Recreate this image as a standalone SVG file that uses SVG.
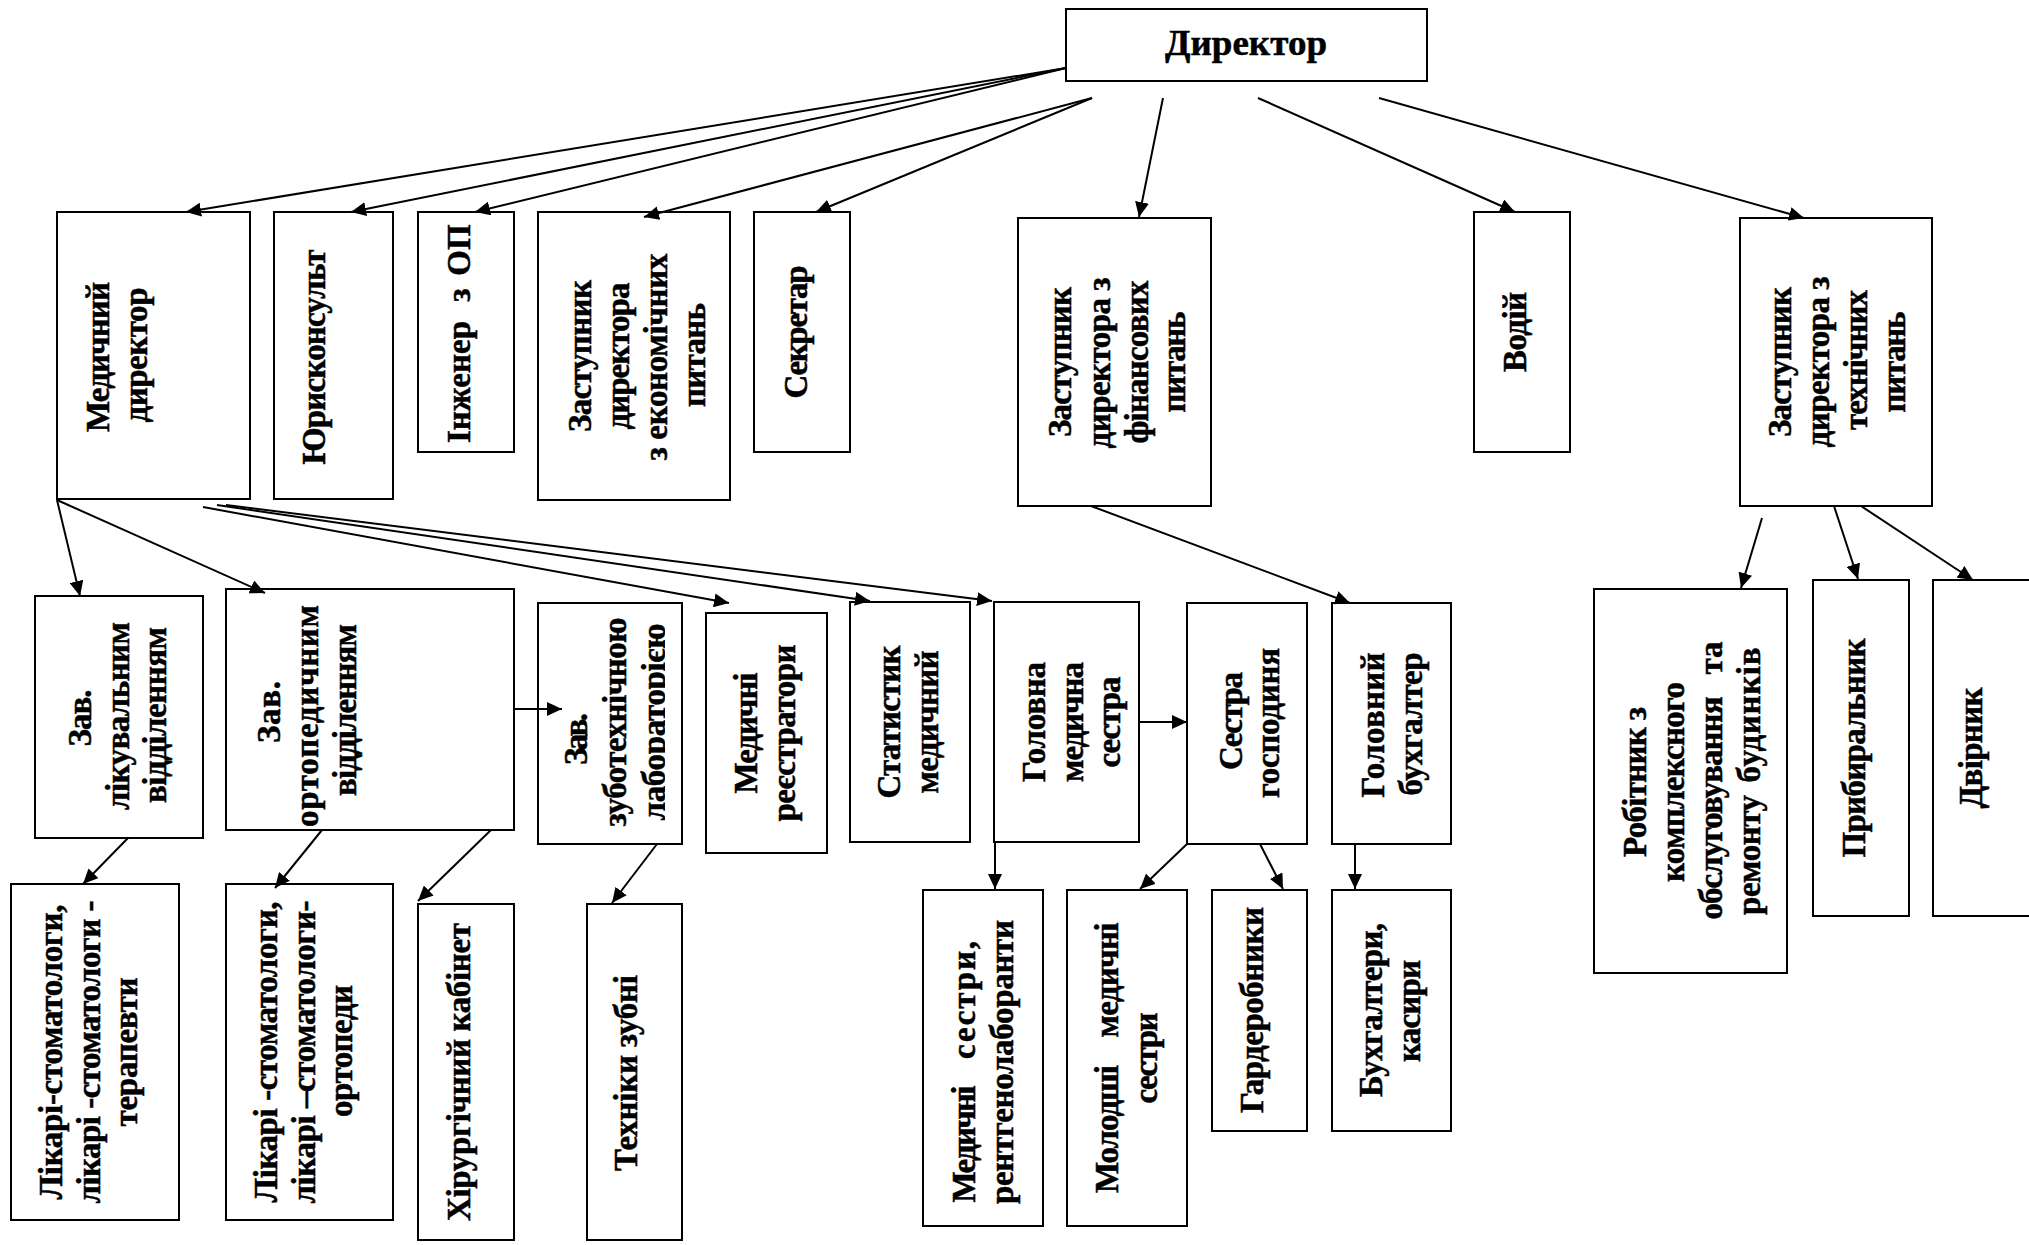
<svg xmlns="http://www.w3.org/2000/svg" width="2029" height="1245" viewBox="0 0 2029 1245">
<style>
.box{fill:#fff;stroke:#000;stroke-width:2}
.t{font-family:"Liberation Serif","Times New Roman",serif;font-weight:bold;font-size:33px;text-anchor:middle;fill:#000;stroke:#000;stroke-width:0.5}
.h{font-size:36px}
.c line{stroke:#000;stroke-width:2;marker-end:url(#ah)}
</style>
<defs>
<marker id="ah" markerUnits="userSpaceOnUse" markerWidth="16" markerHeight="14" refX="15" refY="7" orient="auto">
<path d="M0,0 L15,7 L0,14 z" fill="#000"/>
</marker>
<clipPath id="clipZub"><rect x="530" y="590" width="135" height="270"/></clipPath>
</defs>
<rect width="2029" height="1245" fill="#fff"/>

<g id="director"><rect class="box" x="1066" y="9" width="361" height="72"/>
<text class="t h" x="1246" y="55" textLength="162" lengthAdjust="spacingAndGlyphs">Директор</text></g>

<g id="med-dir"><rect class="box" x="57" y="212" width="193" height="287"/>
<text class="t" transform="translate(109,357) rotate(-90)" textLength="150" lengthAdjust="spacing">Медичний</text>
<text class="t" transform="translate(147,355) rotate(-90)" textLength="135" lengthAdjust="spacing">директор</text></g>

<g id="yuris"><rect class="box" x="274" y="212" width="119" height="287"/>
<text class="t" transform="translate(325,357) rotate(-90)" textLength="215" lengthAdjust="spacing">Юрисконсульт</text></g>

<g id="inzh"><rect class="box" x="418" y="212" width="96" height="240"/>
<text class="t" transform="translate(470,382) rotate(-90)">Інженер</text>
<text class="t" transform="translate(470,295) rotate(-90)">з</text>
<text class="t" transform="translate(470,250) rotate(-90)">ОП</text></g>

<g id="zast-econ"><rect class="box" x="538" y="212" width="192" height="288"/>
<text class="t" transform="translate(591,356) rotate(-90)" textLength="152" lengthAdjust="spacing">Заступник</text>
<text class="t" transform="translate(629,356) rotate(-90)" textLength="147" lengthAdjust="spacing">директора</text>
<text class="t" transform="translate(667,357) rotate(-90)" textLength="207" lengthAdjust="spacing">з економічних</text>
<text class="t" transform="translate(705,355) rotate(-90)" textLength="104" lengthAdjust="spacing">питань</text></g>

<g id="secr"><rect class="box" x="754" y="212" width="96" height="240"/>
<text class="t" transform="translate(807,332) rotate(-90)" textLength="133" lengthAdjust="spacing">Секретар</text></g>

<g id="zast-fin"><rect class="box" x="1018" y="218" width="193" height="288"/>
<text class="t" transform="translate(1071,362) rotate(-90)" textLength="150" lengthAdjust="spacing">Заступник</text>
<text class="t" transform="translate(1110,363) rotate(-90)" textLength="171" lengthAdjust="spacing">директора з</text>
<text class="t" transform="translate(1148,362) rotate(-90)" textLength="163" lengthAdjust="spacing">фінансових</text>
<text class="t" transform="translate(1185,362) rotate(-90)" textLength="101" lengthAdjust="spacing">питань</text></g>

<g id="vodiy"><rect class="box" x="1474" y="212" width="96" height="240"/>
<text class="t" transform="translate(1526,332) rotate(-90)" textLength="80" lengthAdjust="spacing">Водій</text></g>

<g id="zast-tech"><rect class="box" x="1740" y="218" width="192" height="288"/>
<text class="t" transform="translate(1791,362) rotate(-90)" textLength="150" lengthAdjust="spacing">Заступник</text>
<text class="t" transform="translate(1829,362) rotate(-90)" textLength="171" lengthAdjust="spacing">директора з</text>
<text class="t" transform="translate(1867,360) rotate(-90)" textLength="140" lengthAdjust="spacing">технічних</text>
<text class="t" transform="translate(1905,362) rotate(-90)" textLength="101" lengthAdjust="spacing">питань</text></g>

<g id="zav-likuv"><rect class="box" x="35" y="596" width="168" height="242"/>
<text class="t" transform="translate(91,718) rotate(-90)" textLength="57" lengthAdjust="spacing">Зав.</text>
<text class="t" transform="translate(129,716) rotate(-90)" textLength="188" lengthAdjust="spacing">лікувальним</text>
<text class="t" transform="translate(166,715) rotate(-90)" textLength="176" lengthAdjust="spacing">відділенням</text></g>

<g id="zav-orto"><rect class="box" x="226" y="589" width="288" height="241"/>
<text class="t" transform="translate(280,712) rotate(-90)" textLength="62" lengthAdjust="spacing">Зав.</text>
<text class="t" transform="translate(318,716) rotate(-90)" textLength="222" lengthAdjust="spacing">ортопедичним</text>
<text class="t" transform="translate(356,710) rotate(-90)" textLength="172" lengthAdjust="spacing">відділенням</text></g>

<g id="zav-zub"><rect class="box" x="538" y="603" width="144" height="241"/>
<g clip-path="url(#clipZub)">
<text class="t" transform="translate(587,739) rotate(-90)" textLength="52" lengthAdjust="spacing">Зав.</text>
<text class="t" transform="translate(626,722) rotate(-90)" textLength="209" lengthAdjust="spacing">зуботехнічною</text>
<text class="t" transform="translate(665,722) rotate(-90)" textLength="197" lengthAdjust="spacing">лабораторією</text></g></g>

<g id="med-reg"><rect class="box" x="706" y="613" width="121" height="240"/>
<text class="t" transform="translate(757,733) rotate(-90)" textLength="121" lengthAdjust="spacing">Медичні</text>
<text class="t" transform="translate(795,733) rotate(-90)" textLength="177" lengthAdjust="spacing">реєстратори</text></g>

<g id="stat"><rect class="box" x="850" y="602" width="120" height="240"/>
<text class="t" transform="translate(900,722) rotate(-90)" textLength="153" lengthAdjust="spacing">Статистик</text>
<text class="t" transform="translate(938,722) rotate(-90)" textLength="143" lengthAdjust="spacing">медичний</text></g>

<g id="golovna"><rect class="box" x="994" y="602" width="145" height="240"/>
<text class="t" transform="translate(1045,722) rotate(-90)" textLength="120" lengthAdjust="spacing">Головна</text>
<text class="t" transform="translate(1083,722) rotate(-90)" textLength="120" lengthAdjust="spacing">медична</text>
<text class="t" transform="translate(1120,722) rotate(-90)" textLength="91" lengthAdjust="spacing">сестра</text></g>

<g id="sestra-gosp"><rect class="box" x="1187" y="603" width="120" height="241"/>
<text class="t" transform="translate(1242,721) rotate(-90)" textLength="98" lengthAdjust="spacing">Сестра</text>
<text class="t" transform="translate(1279,723) rotate(-90)" textLength="150" lengthAdjust="spacing">господиня</text></g>

<g id="gol-buh"><rect class="box" x="1332" y="603" width="119" height="241"/>
<text class="t" transform="translate(1384,725) rotate(-90)" textLength="145" lengthAdjust="spacing">Головний</text>
<text class="t" transform="translate(1422,724) rotate(-90)" textLength="143" lengthAdjust="spacing">бухгалтер</text></g>

<g id="robitnyk"><rect class="box" x="1594" y="589" width="193" height="384"/>
<text class="t" transform="translate(1646,782) rotate(-90)" textLength="150" lengthAdjust="spacing">Робітник з</text>
<text class="t" transform="translate(1684,782) rotate(-90)" textLength="200" lengthAdjust="spacing">комплексного</text>
<text class="t" transform="translate(1722,808) rotate(-90)" textLength="223" lengthAdjust="spacing">обслуговування</text>
<text class="t" transform="translate(1722,658) rotate(-90)">та</text>
<text class="t" transform="translate(1760,855) rotate(-90)" textLength="120" lengthAdjust="spacing">ремонту</text>
<text class="t" transform="translate(1760,715) rotate(-90)" textLength="135" lengthAdjust="spacing">будинків</text></g>

<g id="prybyr"><rect class="box" x="1813" y="580" width="96" height="336"/>
<text class="t" transform="translate(1865,748) rotate(-90)" textLength="219" lengthAdjust="spacing">Прибиральник</text></g>

<g id="dvirnyk"><rect class="box" x="1933" y="580" width="110" height="336"/>
<text class="t" transform="translate(1982,748) rotate(-90)" textLength="121" lengthAdjust="spacing">Двірник</text></g>

<g id="likari-ter"><rect class="box" x="11" y="884" width="168" height="336"/>
<text class="t" transform="translate(62,1052) rotate(-90)" textLength="295" lengthAdjust="spacing">Лікарі-стоматологи,</text>
<text class="t" transform="translate(100,1052) rotate(-90)" textLength="303" lengthAdjust="spacing">лікарі -стоматологи -</text>
<text class="t" transform="translate(137,1052) rotate(-90)" textLength="149" lengthAdjust="spacing">терапевти</text></g>

<g id="likari-orto"><rect class="box" x="226" y="884" width="167" height="336"/>
<text class="t" transform="translate(277,1052) rotate(-90)" textLength="301" lengthAdjust="spacing">Лікарі -стоматологи,</text>
<text class="t" transform="translate(315,1052) rotate(-90)" textLength="303" lengthAdjust="spacing">лікарі –стоматологи-</text>
<text class="t" transform="translate(352,1051) rotate(-90)" textLength="132" lengthAdjust="spacing">ортопеди</text></g>

<g id="hirurg"><rect class="box" x="418" y="904" width="96" height="336"/>
<text class="t" transform="translate(470,1072) rotate(-90)" textLength="298" lengthAdjust="spacing">Хірургічний кабінет</text></g>

<g id="tehniky"><rect class="box" x="587" y="904" width="95" height="336"/>
<text class="t" transform="translate(637,1073) rotate(-90)" textLength="196" lengthAdjust="spacing">Техніки зубні</text></g>

<g id="med-sestry"><rect class="box" x="923" y="890" width="120" height="336"/>
<text class="t" transform="translate(975,1144) rotate(-90)" textLength="117" lengthAdjust="spacing">Медичні</text>
<text class="t" transform="translate(975,1000) rotate(-90)" textLength="118" lengthAdjust="spacing">сестри,</text>
<text class="t" transform="translate(1013,1062) rotate(-90)" textLength="284" lengthAdjust="spacing">рентгенолаборанти</text></g>

<g id="molodshi"><rect class="box" x="1067" y="890" width="120" height="336"/>
<text class="t" transform="translate(1118,1129) rotate(-90)" textLength="128" lengthAdjust="spacing">Молодші</text>
<text class="t" transform="translate(1118,980) rotate(-90)" textLength="115" lengthAdjust="spacing">медичні</text>
<text class="t" transform="translate(1157,1058) rotate(-90)" textLength="91" lengthAdjust="spacing">сестри</text></g>

<g id="garder"><rect class="box" x="1212" y="890" width="95" height="241"/>
<text class="t" transform="translate(1263,1010) rotate(-90)" textLength="206" lengthAdjust="spacing">Гардеробники</text></g>

<g id="buh"><rect class="box" x="1332" y="890" width="119" height="241"/>
<text class="t" transform="translate(1382,1010) rotate(-90)" textLength="174" lengthAdjust="spacing">Бухгалтери,</text>
<text class="t" transform="translate(1420,1011) rotate(-90)" textLength="102" lengthAdjust="spacing">касири</text></g>

<g id="connectors" class="c">
<line x1="1066" y1="68" x2="186" y2="212"/>
<line x1="1066" y1="68" x2="351" y2="212"/>
<line x1="1066" y1="68" x2="475" y2="212"/>
<line x1="1092" y1="98" x2="644" y2="217"/>
<line x1="1092" y1="98" x2="816" y2="212"/>
<line x1="1163" y1="98" x2="1139" y2="217"/>
<line x1="1258" y1="98" x2="1515" y2="212"/>
<line x1="1379" y1="98" x2="1804" y2="218"/>
<line x1="57" y1="500" x2="80" y2="596"/>
<line x1="57" y1="500" x2="265" y2="593"/>
<line x1="203" y1="507" x2="729" y2="603"/>
<line x1="217" y1="505" x2="870" y2="601"/>
<line x1="226" y1="505" x2="992" y2="601"/>
<line x1="514" y1="709" x2="562" y2="709"/>
<line x1="128" y1="838" x2="83" y2="884"/>
<line x1="322" y1="830" x2="275" y2="888"/>
<line x1="491" y1="830" x2="418" y2="901"/>
<line x1="657" y1="844" x2="612" y2="903"/>
<line x1="995" y1="842" x2="995" y2="889"/>
<line x1="1139" y1="722" x2="1187" y2="722"/>
<line x1="1091" y1="506" x2="1350" y2="603"/>
<line x1="1187" y1="844" x2="1140" y2="889"/>
<line x1="1260" y1="844" x2="1283" y2="889"/>
<line x1="1355" y1="844" x2="1355" y2="889"/>
<line x1="1762" y1="518" x2="1741" y2="588"/>
<line x1="1834" y1="506" x2="1858" y2="579"/>
<line x1="1861" y1="506" x2="1973" y2="580"/>
</g>
</svg>
